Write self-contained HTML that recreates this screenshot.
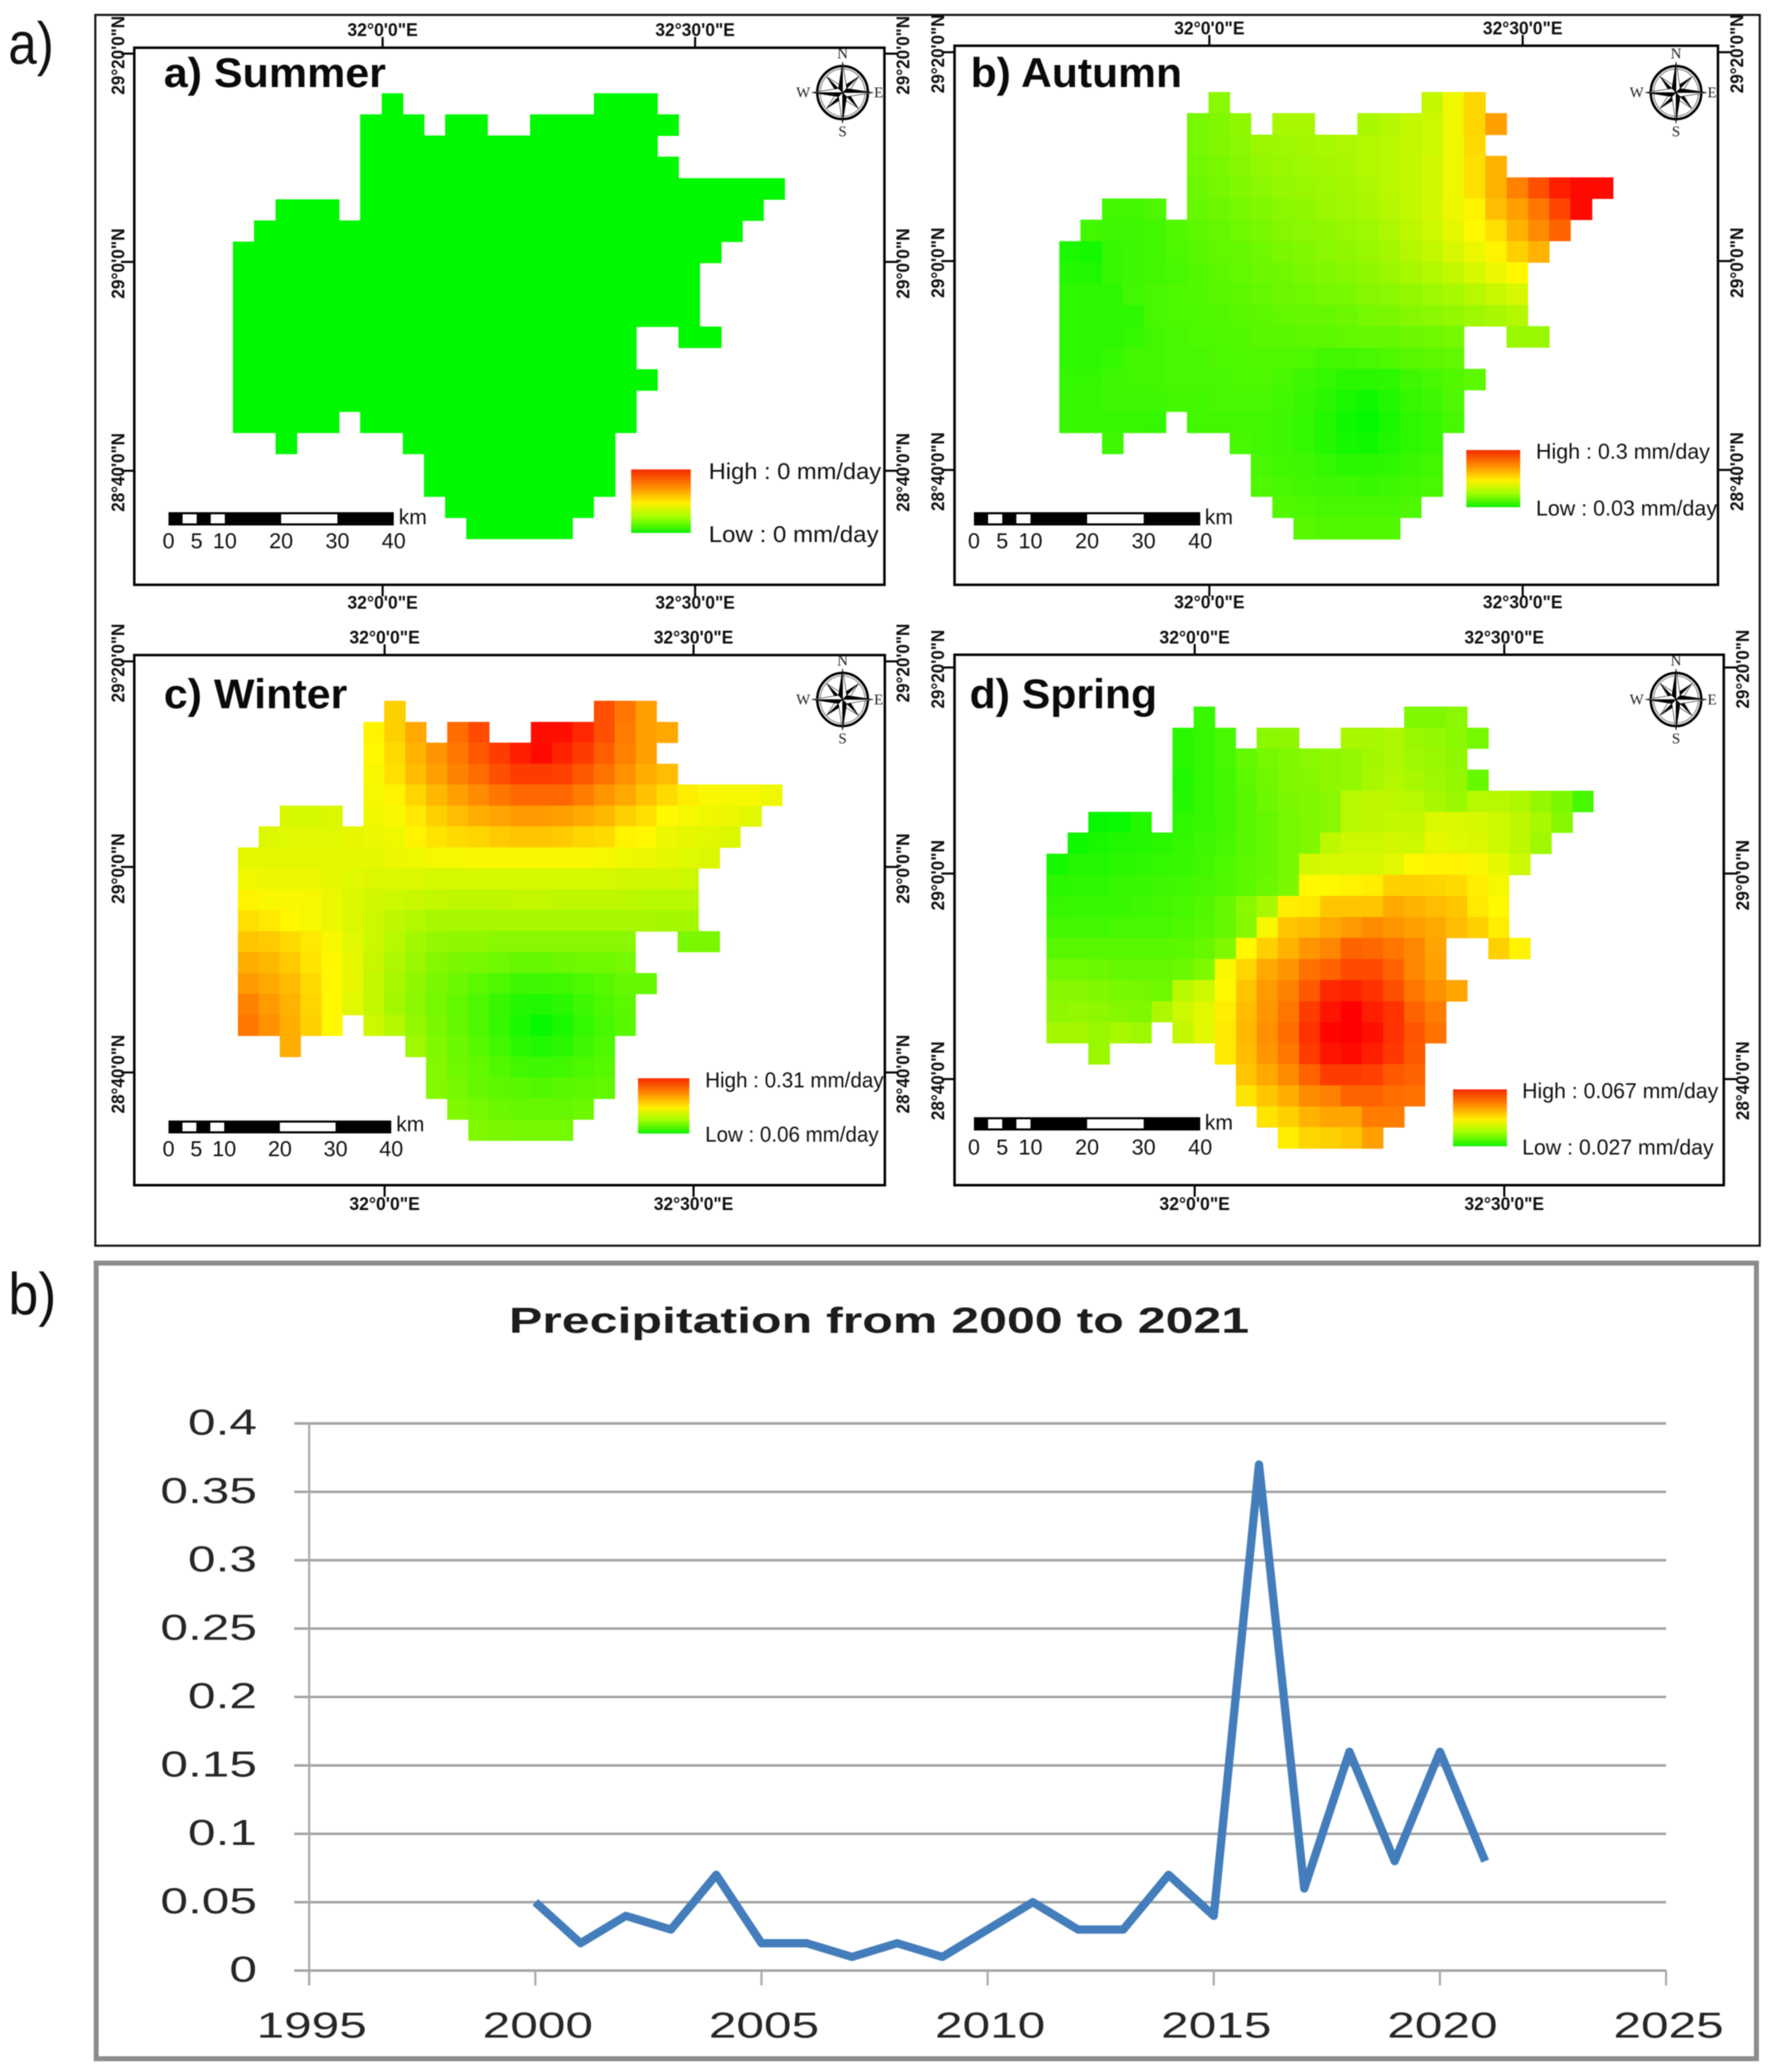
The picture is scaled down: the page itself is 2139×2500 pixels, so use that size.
<!DOCTYPE html>
<html lang="en">
<head>
<meta charset="utf-8">
<title>Seasonal precipitation maps and precipitation from 2000 to 2021</title>
<style>
html,body{margin:0;padding:0;background:#fff;}
svg{display:block;font-family:"Liberation Sans",sans-serif;filter:blur(0.6px);}
</style>
</head>
<body>
<svg id="figure" width="2139" height="2500" viewBox="0 0 2139 2500" xmlns="http://www.w3.org/2000/svg">
  <defs>
    <linearGradient id="legendRamp" x1="0" y1="0" x2="0" y2="1">
      <stop offset="0" stop-color="#f52a00"/>
      <stop offset="0.3" stop-color="#ff9500"/>
      <stop offset="0.53" stop-color="#fff000"/>
      <stop offset="0.75" stop-color="#a5ff00"/>
      <stop offset="1" stop-color="#10f000"/>
    </linearGradient>
  </defs>
  <rect x="0" y="0" width="2139" height="2500" fill="#fff"/>
  <text x="10" y="77" font-size="71" fill="#111" textLength="55" lengthAdjust="spacingAndGlyphs">a)</text>
  <text x="10" y="1586" font-size="71" fill="#111" textLength="58" lengthAdjust="spacingAndGlyphs">b)</text>
  <rect x="115" y="18" width="2008" height="1485" fill="none" stroke="#111" stroke-width="2.5"/>
  <g id="maps"></g>
  <rect x="116" y="1524" width="2003" height="960" fill="#fff" stroke="#8c8c8c" stroke-width="6"/>
  <text x="614" y="1608" font-size="44" font-weight="bold" fill="#1c1c1c" textLength="893" lengthAdjust="spacingAndGlyphs">Precipitation from 2000 to 2021</text>
  <g id="chart"></g>
</svg>

<script>
/* ---------- line chart data ---------- */
const years = [2000,2001,2002,2003,2004,2005,2006,2007,2008,2009,2010,2011,2012,2013,2014,2015,2016,2017,2018,2019,2020,2021];
const precipitation = [0.05,0.02,0.04,0.03,0.07,0.02,0.02,0.01,0.02,0.01,0.03,0.05,0.03,0.03,0.07,0.04,0.37,0.06,0.16,0.08,0.16,0.08];
const yTickValues = [0,0.05,0.1,0.15,0.2,0.25,0.3,0.35,0.4];
const yTickLabels = ['0','0.05','0.1','0.15','0.2','0.25','0.3','0.35','0.4'];
const xTickValues = [1995,2000,2005,2010,2015,2020,2025];
const xTickLabels = ['1995','2000','2005','2010','2015','2020','2025'];

/* ---------- map cell values: position on the legend ramp, 0 = low (green) .. 100 = high (red) ---------- */
const _ = null;
const summerValues = [
[_,_,_,_,_,_,_,0,_,_,_,_,_,_,_,_,_,0,0,0],
[_,_,_,_,_,_,0,0,0,_,0,0,_,_,0,0,0,0,0,0,0],
[_,_,_,_,_,_,0,0,0,0,0,0,0,0,0,0,0,0,0,0],
[_,_,_,_,_,_,0,0,0,0,0,0,0,0,0,0,0,0,0,0,0],
[_,_,_,_,_,_,0,0,0,0,0,0,0,0,0,0,0,0,0,0,0,0,0,0,0,0],
[_,_,0,0,0,_,0,0,0,0,0,0,0,0,0,0,0,0,0,0,0,0,0,0,0],
[_,0,0,0,0,0,0,0,0,0,0,0,0,0,0,0,0,0,0,0,0,0,0,0],
[0,0,0,0,0,0,0,0,0,0,0,0,0,0,0,0,0,0,0,0,0,0,0],
[0,0,0,0,0,0,0,0,0,0,0,0,0,0,0,0,0,0,0,0,0,0],
[0,0,0,0,0,0,0,0,0,0,0,0,0,0,0,0,0,0,0,0,0,0],
[0,0,0,0,0,0,0,0,0,0,0,0,0,0,0,0,0,0,0,0,0,0],
[0,0,0,0,0,0,0,0,0,0,0,0,0,0,0,0,0,0,0,_,_,0,0],
[0,0,0,0,0,0,0,0,0,0,0,0,0,0,0,0,0,0,0],
[0,0,0,0,0,0,0,0,0,0,0,0,0,0,0,0,0,0,0,0],
[0,0,0,0,0,0,0,0,0,0,0,0,0,0,0,0,0,0,0],
[0,0,0,0,0,_,0,0,0,0,0,0,0,0,0,0,0,0,0],
[_,_,0,_,_,_,_,_,0,0,0,0,0,0,0,0,0,0],
[_,_,_,_,_,_,_,_,_,0,0,0,0,0,0,0,0,0],
[_,_,_,_,_,_,_,_,_,0,0,0,0,0,0,0,0,0],
[_,_,_,_,_,_,_,_,_,_,0,0,0,0,0,0,0],
[_,_,_,_,_,_,_,_,_,_,_,0,0,0,0,0]
];
const autumnValues = [
[_,_,_,_,_,_,_,27,_,_,_,_,_,_,_,_,_,38,47,57],
[_,_,_,_,_,_,23,25,28,_,33,33,_,_,33,35,38,40,47,57,68],
[_,_,_,_,_,_,23,25,27,30,31,32,33,34,35,36,38,40,47,56],
[_,_,_,_,_,_,22,24,26,29,30,31,32,33,35,36,38,41,47,55,64],
[_,_,_,_,_,_,21,23,25,27,29,30,31,32,34,36,38,41,47,55,64,74,84,94,98,98],
[_,_,13,13,15,_,20,21,23,25,27,28,30,31,33,35,38,41,46,51,62,68,76,86,98],
[_,13,12,12,13,16,18,20,22,24,26,27,28,30,31,34,37,40,45,50,55,64,72,80],
[5,4,11,12,13,15,17,19,20,22,24,25,27,28,30,32,35,38,42,46,51,58,64],
[7,6,11,12,13,14,16,18,19,21,22,24,25,26,28,30,33,35,38,42,46,50],
[9,9,9,13,14,15,16,17,18,20,21,22,23,24,26,27,29,31,33,36,39,42],
[9,9,9,9,14,15,15,16,17,18,19,20,20,21,23,24,26,27,29,31,33,35],
[9,9,9,10,13,14,15,15,16,17,17,18,18,19,20,20,21,22,23,_,_,30,30],
[9,9,10,13,13,14,14,15,15,16,16,15,13,13,14,15,17,18,19],
[10,10,12,13,13,14,14,14,15,15,14,12,10,8,8,9,12,14,16,18],
[11,11,12,12,12,13,13,14,14,14,13,11,8,5,3,6,10,12,15],
[11,11,11,11,10,_,13,13,13,13,12,10,7,3,1,5,9,11,14],
[_,_,12,_,_,_,_,_,14,13,12,10,7,4,3,6,9,11],
[_,_,_,_,_,_,_,_,_,14,13,12,10,8,8,9,11,13],
[_,_,_,_,_,_,_,_,_,15,14,13,12,12,11,12,13,14],
[_,_,_,_,_,_,_,_,_,_,16,15,14,14,14,14,15],
[_,_,_,_,_,_,_,_,_,_,_,17,16,16,16,16]
];
const winterValues = [
[_,_,_,_,_,_,_,58,_,_,_,_,_,_,_,_,_,84,76,68],
[_,_,_,_,_,_,51,58,66,_,78,85,_,_,97,97,92,84,75,68,66],
[_,_,_,_,_,_,50,56,64,70,76,82,88,94,98,93,88,81,74,68],
[_,_,_,_,_,_,49,55,62,68,74,78,84,88,88,87,82,77,71,65,62],
[_,_,_,_,_,_,48,51,57,63,68,72,76,79,79,79,75,70,66,61,56,52,49,48,48,47],
[_,_,42,42,43,_,47,49,53,58,62,65,67,69,69,68,66,63,58,55,50,48,47,46,44],
[_,43,44,44,44,45,46,47,51,54,56,57,59,60,60,59,57,56,51,50,46,45,44,43],
[45,45,45,45,45,45,45,46,47,48,48,49,49,49,49,49,49,48,47,46,45,44,43],
[47,46,46,46,45,44,43,43,43,42,42,42,42,42,42,42,42,42,41,41,41,40],
[51,49,49,48,46,43,41,40,39,38,37,37,37,38,38,37,37,37,37,36,36,36],
[55,53,50,48,46,43,40,37,35,33,33,33,33,33,33,33,33,33,33,33,32,32],
[60,59,56,53,49,44,40,36,32,29,28,28,27,27,27,27,27,27,27,_,_,24,24],
[65,63,59,54,50,45,39,34,30,26,24,23,22,20,20,21,22,22,23],
[69,66,62,56,50,45,38,33,28,24,21,18,15,12,12,13,15,17,20,20],
[74,69,64,57,50,44,38,32,27,23,19,15,11,7,6,8,12,15,18],
[76,71,65,58,50,_,40,35,29,24,20,15,10,5,1,5,10,14,17],
[_,_,65,_,_,_,_,_,31,25,21,17,13,8,6,8,12,15],
[_,_,_,_,_,_,_,_,_,26,22,19,16,13,12,13,15,17],
[_,_,_,_,_,_,_,_,_,26,23,20,18,17,16,17,18,19],
[_,_,_,_,_,_,_,_,_,_,25,23,21,20,20,20,21],
[_,_,_,_,_,_,_,_,_,_,_,25,24,23,23,23]
];
const springValues = [
[_,_,_,_,_,_,_,11,_,_,_,_,_,_,_,_,_,25,25,27],
[_,_,_,_,_,_,8,10,14,_,27,28,_,_,33,33,34,30,29,27,23],
[_,_,_,_,_,_,8,10,14,19,23,25,27,28,29,32,34,31,30,28],
[_,_,_,_,_,_,6,10,13,18,22,25,26,28,29,33,35,33,31,29,20],
[_,_,_,_,_,_,7,10,13,17,21,24,25,27,36,37,37,36,33,30,36,36,34,29,24,14],
[_,_,1,2,7,_,9,11,13,17,20,23,25,27,36,37,38,38,43,43,42,40,37,33,26],
[_,3,5,6,7,8,10,12,14,17,20,23,25,37,40,40,41,40,45,44,43,40,37,31],
[4,7,7,8,9,10,11,13,15,18,20,23,41,42,42,42,44,50,51,51,49,45,40],
[8,9,9,10,11,12,13,14,16,18,21,24,50,50,51,52,58,58,57,56,52,48],
[10,11,11,11,12,13,14,16,20,27,33,52,53,60,60,60,66,64,62,60,53,50],
[13,13,13,14,14,14,15,17,20,26,48,60,62,66,69,72,70,68,66,62,58,52],
[17,17,17,17,17,17,18,20,25,50,58,64,70,73,80,79,76,73,67,_,_,58,51],
[22,22,21,20,20,20,21,25,49,57,66,70,77,80,85,85,80,73,68],
[26,26,25,24,23,22,36,40,50,60,69,74,82,92,93,90,84,76,71,67],
[28,29,28,26,25,34,40,44,52,62,70,76,88,96,100,94,90,80,75],
[32,32,30,33,31,_,38,44,53,63,71,78,90,99,100,97,90,83,77],
[_,_,30,_,_,_,_,_,53,62,70,76,88,96,98,94,89,82],
[_,_,_,_,_,_,_,_,_,60,66,72,80,88,88,87,82,80],
[_,_,_,_,_,_,_,_,_,54,60,65,72,74,80,80,78,77],
[_,_,_,_,_,_,_,_,_,_,54,58,64,67,67,75,75],
[_,_,_,_,_,_,_,_,_,_,_,52,57,58,60,68]
];

/* ---------- map annotation text ---------- */
const latLabels = ['29°20\'0"N','29°0\'0"N','28°40\'0"N'];
const lonLabels = ['32°0\'0"E','32°30\'0"E'];
const scaleKm = [0,5,10,20,30,40];
const scaleLabels = ['0','5','10','20','30','40'];
const scaleWhiteFrom = [2.5,7.5,20];
const scaleWhiteTo = [5,10,30];

const panels = [
 {key:'summer',title:'a) Summer',values:summerValues,high:'High : 0 mm/day',low:'Low : 0 mm/day',
  fx:162,fy:57.6,fw:905,fh:648,gx:281.1,gy:112.3,cw:25.6,ch:25.62,
  lonX:[461.6,838.6],latY:[64.7,316,568],topBase:43.4,botBase:734.5,leftBase:150,rightBase:1097,
  tx:197.6,ty:104.8,tw:268,
  cx:1016.5,cy:111.7,
  sx0:203.3,sx1:475,sy:618,sh:16,numBase:661.7,kmX:481,kmBase:632.5,
  lx:761.4,ly:566.4,lw:72,lh:76.6,tX:855,hiBase:578,hiW:208,loBase:654,loW:205,lFont:28},
 {key:'autumn',title:'b) Autumn',values:autumnValues,high:'High : 0.3 mm/day',low:'Low : 0.03 mm/day',
  fx:1151.6,fy:55.2,fw:921,fh:650.4,gx:1277.9,gy:111,cw:25.7,ch:25.69,
  lonX:[1459,1837],latY:[63,315,567],topBase:41.5,botBase:734,leftBase:1139,rightBase:2103,
  tx:1171,ty:104.8,tw:255,
  cx:2022,cy:111.7,
  sx0:1175,sx1:1448,sy:618,sh:16,numBase:661.7,kmX:1453.5,kmBase:632.5,
  lx:1769,ly:543,lw:65,lh:69,tX:1853,hiBase:553.7,hiW:210,loBase:622,loW:218.5,lFont:26},
 {key:'winter',title:'c) Winter',values:winterValues,high:'High : 0.31 mm/day',low:'Low : 0.06 mm/day',
  fx:162,fy:790.4,fw:905.5,fh:639.6,gx:286.9,gy:845.7,cw:25.26,ch:25.25,
  lonX:[464,836.7],latY:[798,1046,1294],topBase:776.4,botBase:1459.8,leftBase:150,rightBase:1097,
  tx:197.6,ty:854.4,tw:221.4,
  cx:1016.5,cy:844,
  sx0:203.3,sx1:472,sy:1352,sh:15.5,numBase:1395,kmX:478,kmBase:1365,
  lx:769.7,ly:1301,lw:62,lh:66.7,tX:850.7,hiBase:1312,hiW:215.3,loBase:1377.4,loW:209.3,lFont:26},
 {key:'spring',title:'d) Spring',values:springValues,high:'High : 0.067 mm/day',low:'Low : 0.027 mm/day',
  fx:1151.6,fy:790,fw:928,fh:640,gx:1262.4,gy:852.4,cw:25.38,ch:25.39,
  lonX:[1441.3,1814.8],latY:[805.4,1054,1302],topBase:776.4,botBase:1459.8,leftBase:1139,rightBase:2110,
  tx:1169.8,ty:854.4,tw:226.2,
  cx:2022,cy:844,
  sx0:1175,sx1:1448,sy:1348,sh:16,numBase:1393,kmX:1453.5,kmBase:1363,
  lx:1753,ly:1314.4,lw:65,lh:68.6,tX:1836.4,hiBase:1325,hiW:236.6,loBase:1393,loW:231,lFont:26}
];

const NS = 'http://www.w3.org/2000/svg';
function make(parent, tag) {
  const el = document.createElementNS(NS, tag);
  parent.appendChild(el);
  return el;
}
function setAll(el, attrs) {
  for (const k in attrs) el.setAttribute(k, attrs[k]);
  return el;
}
function rampColor(v) {
  const r = v <= 50 ? Math.round(255 * v / 50) : 255;
  const g = v <= 50 ? 248 : Math.round(248 * (100 - v) / 50);
  return 'rgb(' + r + ',' + g + ',0)';
}

/* ---------- draw maps ---------- */
const mapsRoot = document.getElementById('maps');

function drawCompass(parent, cx, cy) {
  const g = make(parent, 'g');
  
  
  setAll(make(g, 'ellipse'), {cx:cx, cy:cy, rx:30.5, ry:32, fill:'none', stroke:'#000', 'stroke-width':3});
  setAll(make(g, 'ellipse'), {cx:cx, cy:cy, rx:27, ry:28.5, fill:'none', stroke:'#444', 'stroke-width':0.8});
  const angles = [45,135,225,315,0,90,180,270];
  angles.forEach(function (a, i) {
    const len = i >= 4 ? 37 : 27;
    const wid = i >= 4 ? 5 : 5;
    const pt = make(g, 'g');
    pt.setAttribute('transform', 'translate(' + cx + ' ' + cy + ') rotate(' + a + ')');
    setAll(make(pt, 'polygon'), {points:'0,0 0,' + (-len) + ' ' + (-wid) + ',' + (-wid), fill:'#000', stroke:'#000', 'stroke-width':0.4});
    setAll(make(pt, 'polygon'), {points:'0,0 0,' + (-len) + ' ' + wid + ',' + (-wid), fill:'#fff', stroke:'#000', 'stroke-width':0.6});
  });
  const letters = ['N','S','W','E'];
  const lx = [cx, cx, cx - 47.5, cx + 43.5];
  const ly = [cy - 41, cy + 53, cy + 6, cy + 6];
  letters.forEach(function (t, i) {
    const el = make(g, 'text');
    setAll(el, {x:lx[i], y:ly[i], 'text-anchor':'middle', 'font-size':18, 'font-family':'"Liberation Serif",serif', fill:'#222'});
    
    
    el.textContent = t;
  });
}

panels.forEach(function (p) {
  const g = make(mapsRoot, 'g');
  
  

  /* heat cells */
  const cells = make(g, 'g');
  
  
  cells.setAttribute('shape-rendering', 'crispEdges');
  const colX = function (c) { return p.gx + c * p.cw; };
  const rowY = function (r) { return p.gy + r * p.ch; };
  p.values.forEach(function (row, r) {
    row.forEach(function (v, c) {
      if (v === null || v === undefined) return;
      const cell = make(cells, 'rect');
      setAll(cell, {x:colX(c), y:rowY(r), width:p.cw + 0.4, height:p.ch + 0.4, fill:rampColor(v)});
      
      
    });
  });

  /* neat line */
  const frame = make(g, 'rect');
  setAll(frame, {x:p.fx, y:p.fy, width:p.fw, height:p.fh, fill:'none', stroke:'#000', 'stroke-width':3});
  
  

  /* longitude ticks and labels, top and bottom */
  const lonWidths = [85, 96];
  lonLabels.forEach(function (label, i) {
    const x = p.lonX[i];
    const t1 = make(g, 'line');
    setAll(t1, {x1:x, x2:x, y1:p.fy - 13, y2:p.fy, stroke:'#000', 'stroke-width':2.5});
    
    
    const t2 = make(g, 'line');
    setAll(t2, {x1:x, x2:x, y1:p.fy + p.fh, y2:p.fy + p.fh + 14, stroke:'#000', 'stroke-width':2.5});
    
    
    const a = make(g, 'text');
    setAll(a, {x:x, y:p.topBase, 'text-anchor':'middle', 'font-size':22, 'font-weight':'bold', fill:'#111', textLength:lonWidths[i], lengthAdjust:'spacingAndGlyphs'});
    
    
    a.textContent = label;
    const b = make(g, 'text');
    setAll(b, {x:x, y:p.botBase, 'text-anchor':'middle', 'font-size':22, 'font-weight':'bold', fill:'#111', textLength:lonWidths[i], lengthAdjust:'spacingAndGlyphs'});
    
    
    b.textContent = label;
  });

  /* latitude ticks and rotated labels, left and right */
  const latWidths = [95, 85, 95];
  latLabels.forEach(function (label, i) {
    const y = p.latY[i];
    const t1 = make(g, 'line');
    setAll(t1, {x1:p.fx - 16, x2:p.fx, y1:y, y2:y, stroke:'#000', 'stroke-width':2.5});
    
    
    const t2 = make(g, 'line');
    setAll(t2, {x1:p.fx + p.fw, x2:p.fx + p.fw + 17, y1:y, y2:y, stroke:'#000', 'stroke-width':2.5});
    
    
    const a = make(g, 'text');
    setAll(a, {x:p.leftBase, y:y + 2, 'text-anchor':'middle', 'font-size':22, 'font-weight':'bold', fill:'#111', textLength:latWidths[i], lengthAdjust:'spacingAndGlyphs', transform:'rotate(-90 ' + p.leftBase + ' ' + (y + 2) + ')'});
    
    
    a.textContent = label;
    const b = make(g, 'text');
    setAll(b, {x:p.rightBase, y:y + 2, 'text-anchor':'middle', 'font-size':22, 'font-weight':'bold', fill:'#111', textLength:latWidths[i], lengthAdjust:'spacingAndGlyphs', transform:'rotate(-90 ' + p.rightBase + ' ' + (y + 2) + ')'});
    
    
    b.textContent = label;
  });

  /* panel title */
  const title = make(g, 'text');
  setAll(title, {x:p.tx, y:p.ty, 'font-size':50, 'font-weight':'bold', fill:'#0a0a0a', textLength:p.tw, lengthAdjust:'spacingAndGlyphs'});
  
  
  title.textContent = p.title;

  drawCompass(g, p.cx, p.cy);

  /* scale bar */
  const kmX = function (km) { return p.sx0 + km / 40 * (p.sx1 - p.sx0); };
  const bar = make(g, 'rect');
  setAll(bar, {x:p.sx0, y:p.sy, width:p.sx1 - p.sx0, height:p.sh, fill:'#000'});
  
  
  scaleWhiteFrom.forEach(function (from, i) {
    const seg = make(g, 'rect');
    setAll(seg, {x:kmX(from), y:p.sy + 2.5, width:kmX(scaleWhiteTo[i]) - kmX(from), height:p.sh - 5, fill:'#fff'});
    
    
  });
  scaleKm.forEach(function (km, i) {
    const n = make(g, 'text');
    setAll(n, {x:kmX(km), y:p.numBase, 'text-anchor':'middle', 'font-size':26, fill:'#111'});
    
    
    n.textContent = scaleLabels[i];
  });
  const km = make(g, 'text');
  setAll(km, {x:p.kmX, y:p.kmBase, 'font-size':26, fill:'#111', textLength:34, lengthAdjust:'spacingAndGlyphs'});
  
  
  km.textContent = 'km';

  /* legend */
  const ramp = make(g, 'rect');
  setAll(ramp, {x:p.lx, y:p.ly, width:p.lw, height:p.lh, fill:'url(#legendRamp)'});
  
  
  const hi = make(g, 'text');
  setAll(hi, {x:p.tX, y:p.hiBase, 'font-size':p.lFont, fill:'#111', textLength:p.hiW, lengthAdjust:'spacingAndGlyphs'});
  
  
  hi.textContent = p.high;
  const lo = make(g, 'text');
  setAll(lo, {x:p.tX, y:p.loBase, 'font-size':p.lFont, fill:'#111', textLength:p.loW, lengthAdjust:'spacingAndGlyphs'});
  
  
  lo.textContent = p.low;
});

/* ---------- draw line chart ---------- */
const chart = document.getElementById('chart');
const plotLeft = 373, plotRight = 2010, plotBottom = 2377.6, plotTop = 1717.5;
const xMin = 1995, xMax = 2025, yMin = 0, yMax = 0.4;
function xScale(v) { return plotLeft + (v - xMin) / (xMax - xMin) * (plotRight - plotLeft); }
function yScale(v) { return plotBottom - (v - yMin) / (yMax - yMin) * (plotBottom - plotTop); }

yTickValues.forEach(function (v, i) {
  const line = make(chart, 'line');
  setAll(line, {x1:355, x2:plotRight, y1:yScale(v), y2:yScale(v), stroke:'#a3a3a3', 'stroke-width':3});
  
  
  const label = make(chart, 'text');
  setAll(label, {'text-anchor':'end', 'font-size':44, fill:'#262626', transform:'translate(310 ' + (yScale(v) + 13.5) + ') scale(1.36 1)'});
  
  
  label.textContent = yTickLabels[i];
});

const yAxis = make(chart, 'line');
setAll(yAxis, {x1:plotLeft, x2:plotLeft, y1:plotTop, y2:plotBottom + 18, stroke:'#a8a8a8', 'stroke-width':2.5});



xTickValues.forEach(function (v, i) {
  const tick = make(chart, 'line');
  setAll(tick, {x1:xScale(v), x2:xScale(v), y1:plotBottom, y2:plotBottom + 18, stroke:'#a8a8a8', 'stroke-width':2.5});
  
  
  const label = make(chart, 'text');
  setAll(label, {'text-anchor':'middle', 'font-size':44, fill:'#262626', transform:'translate(' + (xScale(v) + 3) + ' 2458.6) scale(1.36 1)'});
  
  
  label.textContent = xTickLabels[i];
});

const series = make(chart, 'path');
const seriesPath = years.map(function (yr, i) {
  return (i ? 'L' : 'M') + xScale(yr).toFixed(1) + ' ' + yScale(precipitation[i]).toFixed(1);
}).join(' ');
setAll(series, {d:seriesPath, fill:'none', stroke:'#437dbb', 'stroke-width':10, 'stroke-linejoin':'round', 'stroke-linecap':'butt'});


</script>
</body>
</html>
